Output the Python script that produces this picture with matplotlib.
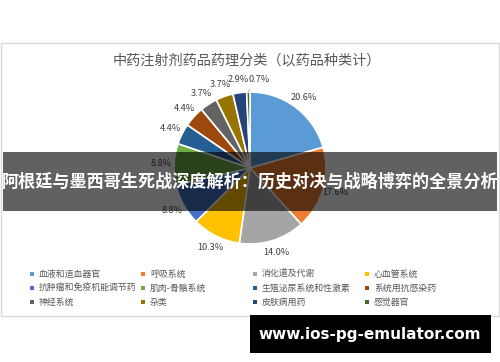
import numpy as np
import matplotlib
matplotlib.use("Agg")
import matplotlib.pyplot as plt
from matplotlib.patches import Rectangle

plt.rcParams['font.family'] = ['Noto Sans CJK SC', 'DejaVu Sans']

# Data
categories = ['血液和造血器官', '呼吸系统', '消化道及代谢', '心血管系统',
              '抗肿瘤和免疫机能调节药', '肌肉-骨骼系统', '生殖泌尿系统和性激素', '系统用抗感染药',
              '神经系统', '杂类', '皮肤病用药', '感觉器官']
shares = [20.6, 17.6, 14.0, 10.3, 8.8, 8.8, 4.4, 4.4, 3.7, 3.7, 2.9, 0.7]
colors = ['#5B9BD5', '#ED7D31', '#A5A5A5', '#FFC000', '#4472C4', '#70AD47',
          '#255E91', '#9E480E', '#636363', '#997300', '#264478', '#43682B']

title = '中药注射剂药品药理分类（以药品种类计）'
banner = '阿根廷与墨西哥生死战深度解析：历史对决与战略博弈的全景分析'
watermark = 'www.ios-pg-emulator.com'

W, H = 500, 362
fig = plt.figure(figsize=(W / 100, H / 100), dpi=100)
fig.patch.set_facecolor('white')


def fx(px):
    return px / W


def fy(py):
    return 1 - py / H


# Chart frame
fig.patches.append(Rectangle((fx(1), fy(316)), fx(498), (316 - 43) / H,
                             transform=fig.transFigure, fill=False,
                             edgecolor='#d9d9d9', linewidth=1))
fig.text(fx(247), fy(60), title, ha='center', va='center',
         fontsize=10.2, color='#595959')

# Pie
cx, cy, r = 250, 168, 76
half = 100
ax = fig.add_axes([fx(cx - half), fy(cy + half), 2 * half / W, 2 * half / H])
wedges, _ = ax.pie(shares, colors=colors, startangle=90, counterclock=False,
                   radius=1, wedgeprops=dict(edgecolor='white', linewidth=1.2))
lim = half / r
ax.set_xlim(-lim, lim)
ax.set_ylim(-lim, lim)
ax.set_aspect('equal')
ax.axis('off')

for i, (w, v) in enumerate(zip(wedges, shares)):
    ang = np.deg2rad((w.theta1 + w.theta2) / 2)
    d = 1.17
    if v < 1:
        # tiny slice: label pulled up with a leader line
        x0, y0 = np.cos(ang), np.sin(ang)
        tx, ty = 0.12, 1.17
        ax.annotate(f'{v:.1f}%', xy=(x0, y0 * 1.01), xytext=(tx, ty),
                    ha='center', va='center', fontsize=6.6, color='#404040',
                    arrowprops=dict(arrowstyle='-', color='#a6a6a6', lw=0.6,
                                    shrinkA=3, shrinkB=0))
        continue
    ax.text(d * np.cos(ang), d * np.sin(ang), f'{v:.1f}%', ha='center',
            va='center', fontsize=6.6, color='#404040')

# Legend
col_x = [32, 143, 255, 367]
row_y = [274, 288, 302]
for i, (name, c) in enumerate(zip(categories, colors)):
    px = col_x[i % 4]
    py = row_y[i // 4]
    fig.patches.append(Rectangle((fx(px - 2), fy(py + 2)), 4 / W, 4 / H,
                                 transform=fig.transFigure, facecolor=c,
                                 edgecolor='none'))
    fig.text(fx(px + 7), fy(py), name, ha='left', va='center',
             fontsize=6.4, color='#595959')

# Dark banner overlay
fig.patches.append(Rectangle((fx(3), fy(211)), fx(494), (211 - 152) / H,
                             transform=fig.transFigure, facecolor='black',
                             alpha=0.62, edgecolor='none', zorder=5))
fig.text(fx(250), fy(182), banner, ha='center', va='center', fontsize=12.3,
         fontweight='bold', color='white', zorder=6)

# Watermark
fig.patches.append(Rectangle((fx(250), fy(353)), fx(241), (353 - 315) / H,
                             transform=fig.transFigure, facecolor='black',
                             edgecolor='none', zorder=5))
fig.text(fx(370), fy(335), watermark, ha='center', va='center', fontsize=11,
         fontweight='bold', color='white', family=['DejaVu Sans'], zorder=6)

fig.savefig('out.png', dpi=100)
